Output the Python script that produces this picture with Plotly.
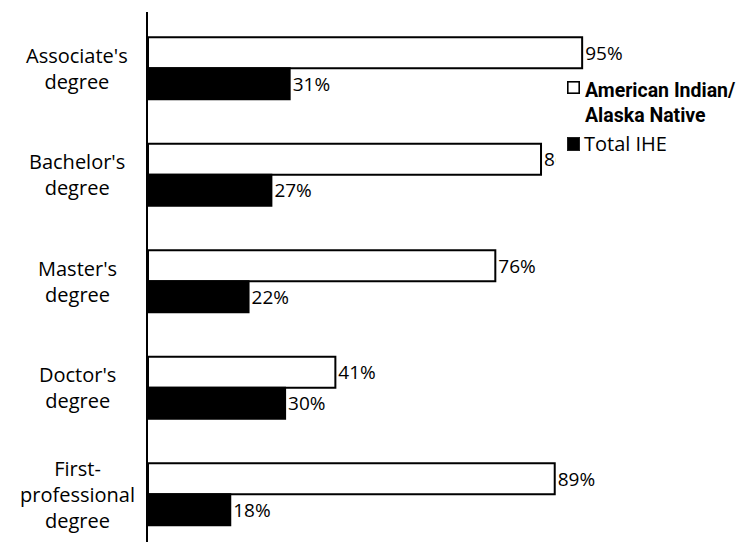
import plotly.graph_objects as go

# Degree levels, top to bottom
categories = [
    "Associate's degree",
    "Bachelor's degree",
    "Master's degree",
    "Doctor's degree",
    "First-professional degree",
]
category_labels = [
    "Associate's<br>degree",
    "Bachelor's<br>degree",
    "Master's<br>degree",
    "Doctor's<br>degree",
    "First-<br>professional<br>degree",
]
aian_values = [95, 86, 76, 41, 89]      # American Indian/Alaska Native
total_values = [31, 27, 22, 30, 18]     # Total IHE

series_names = ["American Indian/<br>Alaska Native", "Total IHE"]

FONT = "Open Sans, Noto Sans, sans-serif"
BOLD_FONT = "Roboto, Liberation Sans Narrow, sans-serif"

W, H = 738, 542
ML, MR, MT, MB = 148, 42, 12, 0
PW, PH = W - ML - MR, H - MT - MB


def px_x(p):
    return (p - ML) / PW


def px_y(p):
    return 1 - (p - MT) / PH


fig = go.Figure()

fig.add_trace(go.Bar(
    name=series_names[0],
    y=categories, x=aian_values, orientation="h",
    marker=dict(color="white", line=dict(color="black", width=2)),
    text=[f"{v}%" for v in aian_values], textposition="outside",
    textfont=dict(family=FONT, size=19, color="black"),
    constraintext="none", cliponaxis=False,
))
fig.add_trace(go.Bar(
    name=series_names[1],
    y=categories, x=total_values, orientation="h",
    marker=dict(color="black", line=dict(color="black", width=2)),
    text=[f"{v}%" for v in total_values], textposition="outside",
    textfont=dict(family=FONT, size=19, color="black"),
    constraintext="none", cliponaxis=False,
))

annotations = []
for cat, lab in zip(categories, category_labels):
    annotations.append(dict(
        x=px_x(77), xref="paper", y=cat, yref="y",
        text=lab, showarrow=False, align="center",
        xanchor="center", yanchor="middle",
        font=dict(family=FONT, size=20, color="black"),
    ))

# Legend panel (white background drawn over the plot), swatches and labels
annotations.append(dict(
    x=px_x(556), xref="paper", y=px_y(74), yref="paper",
    xanchor="left", yanchor="top", showarrow=False,
    text="&nbsp;", width=200, height=100, borderpad=0, borderwidth=0,
    bgcolor="white",
))
annotations.append(dict(
    x=px_x(567), xref="paper", y=px_y(81), yref="paper",
    xanchor="left", yanchor="top", showarrow=False,
    text="&nbsp;", width=10, height=10, borderpad=0, borderwidth=1.6,
    bgcolor="white", bordercolor="black", font=dict(size=6),
))
annotations.append(dict(
    x=px_x(567), xref="paper", y=px_y(137), yref="paper",
    xanchor="left", yanchor="top", showarrow=False,
    text="&nbsp;", width=12, height=13, borderpad=0, borderwidth=0.5,
    bgcolor="black", bordercolor="black", font=dict(size=6),
))
annotations.append(dict(
    x=px_x(583), xref="paper", y=px_y(103), yref="paper",
    text="<b>" + series_names[0] + "</b>", showarrow=False,
    align="left", xanchor="left", yanchor="middle",
    font=dict(family=BOLD_FONT, size=19.5, color="black"),
))
annotations.append(dict(
    x=px_x(582), xref="paper", y=px_y(143.5), yref="paper",
    text=series_names[1], showarrow=False,
    align="left", xanchor="left", yanchor="middle",
    font=dict(family=FONT, size=20, color="black"),
))

fig.update_layout(
    width=W, height=H,
    margin=dict(l=ML, r=MR, t=MT, b=MB, pad=0),
    paper_bgcolor="white", plot_bgcolor="white",
    barmode="group", bargap=0.418, bargroupgap=0,
    showlegend=False,
    xaxis=dict(range=[0, PW / 4.57], visible=False, fixedrange=True),
    yaxis=dict(
        categoryorder="array", categoryarray=categories,
        range=[4.448, -0.529],
        showticklabels=False, ticks="", showgrid=False, zeroline=False,
        showline=True, linecolor="black", linewidth=2, fixedrange=True,
    ),
    annotations=annotations,
)

fig.write_html("out.html")
